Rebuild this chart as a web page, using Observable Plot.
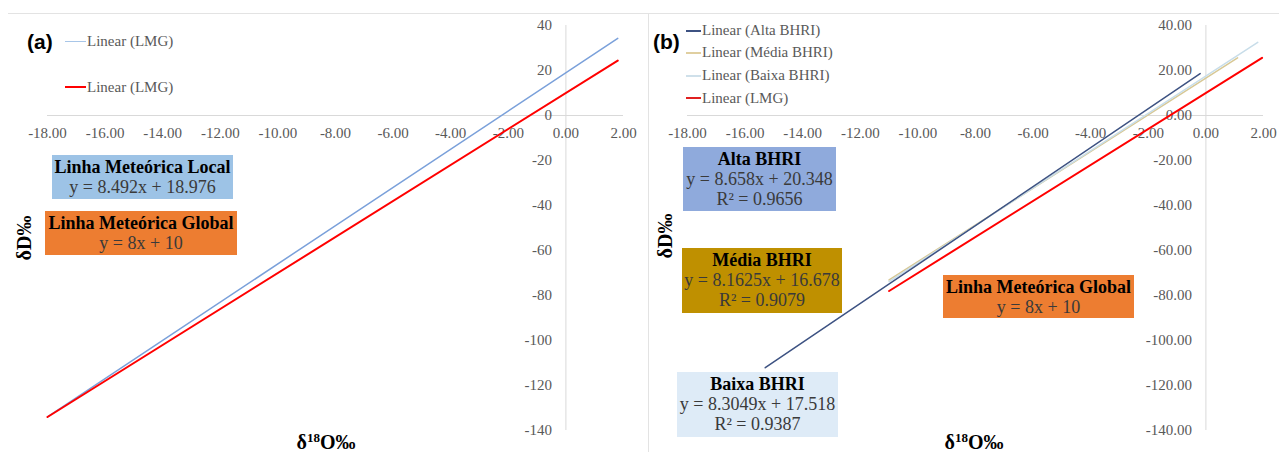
<!DOCTYPE html>
<html>
<head>
<meta charset="utf-8">
<script src="https://cdn.jsdelivr.net/npm/d3@7"></script>
<script src="https://cdn.jsdelivr.net/npm/@observablehq/plot@0.6"></script>
<style>
  html, body { margin: 0; padding: 0; background: #fff; }
  #wrap { position: relative; width: 1279px; height: 452px; overflow: hidden; font-family: "Liberation Serif", "Times New Roman", serif; }
  .panel { position: absolute; top: 0; }
  .abs { position: absolute; white-space: nowrap; }
  .box { position: absolute; text-align: center; font-size: 18px; line-height: 20px; padding-top: 2px; box-sizing: border-box; color: #3a3a3a; white-space: nowrap; }
  .box b { color: #000; }
  .leg { position: absolute; font-size: 15px; color: #595959; line-height: 18px; white-space: nowrap; }
  .sw { position: absolute; height: 0; }
  .tag { position: absolute; font-family: "Liberation Sans", Arial, sans-serif; font-weight: bold; font-size: 21px; color: #000; }
  .ytitle { position: absolute; font-weight: bold; font-size: 20px; color: #000; transform: translate(-50%, -50%) rotate(-90deg); white-space: nowrap; }
  .xtitle { position: absolute; font-weight: bold; font-size: 20px; color: #000; transform: translateX(-50%); white-space: nowrap; }
  .xtitle sup { font-size: 13px; vertical-align: 7px; line-height: 0; }
</style>
</head>
<body>
<div id="wrap"></div>
<script>
// ---- axis ticks ----
const xTicks = [-18, -16, -14, -12, -10, -8, -6, -4, -2, 0, 2];
const yTicks = [40, 20, 0, -20, -40, -60, -80, -100, -120, -140];

// ---- panel (a): trendline endpoints (δ18O, δD) ----
const lmlX = [-18.0, 1.8];
const lmlY = [-133.9, 34.3];
const lmgAX = [-18.0, 1.8];
const lmgAY = [-134.0, 24.4];

// ---- panel (b): trendline endpoints ----
const altaX = [-15.3, -0.2];
const altaY = [-112.1, 18.6];
const mediaX = [-11.0, 1.1];
const mediaY = [-73.1, 25.6];
const baixaX = [-11.0, 1.8];
const baixaY = [-73.8, 32.5];
const lmgBX = [-11.0, 1.95];
const lmgBY = [-78.0, 25.6];

const pts = (xs, ys) => xs.map((x, i) => ({x, y: ys[i]}));

function panel(lines, yFmt, width) {
  return Plot.plot({
    width, height: 452,
    marginLeft: 47, marginRight: width - 623, marginTop: 25, marginBottom: 22,
    x: {domain: [-18, 2], axis: null},
    y: {domain: [-140, 40], axis: null},
    style: {fontFamily: "Liberation Serif, Times New Roman, serif", fontSize: "15px", background: "transparent", overflow: "visible"},
    marks: [
      Plot.ruleY([0], {stroke: "#d9d9d9", strokeWidth: 1}),
      Plot.ruleX([0], {stroke: "#d9d9d9", strokeWidth: 1}),
      Plot.text(xTicks, {x: d => d, y: d => 0, dy: 18, text: d => d.toFixed(2), fill: "#595959", fontSize: 15}),
      Plot.text(yTicks, {x: d => 0, y: d => d, dx: -14, textAnchor: "end", text: yFmt, fill: "#595959", fontSize: 15}),
      ...lines.map(l => Plot.line(pts(l.x, l.y), {x: "x", y: "y", stroke: l.color, strokeWidth: l.w}))
    ]
  });
}

const wrap = document.getElementById("wrap");

const a = panel([
  {x: lmlX, y: lmlY, color: "#7aa0da", w: 1.5},
  {x: lmgAX, y: lmgAY, color: "#ff0000", w: 2}
], d => String(d), 640);
a.classList.add("panel"); a.style.left = "0px";
wrap.appendChild(a);

const b = panel([
  {x: mediaX, y: mediaY, color: "#d8c894", w: 1.5},
  {x: baixaX, y: baixaY, color: "#c8dde9", w: 1.5},
  {x: altaX, y: altaY, color: "#3d5282", w: 1.5},
  {x: lmgBX, y: lmgBY, color: "#ff0000", w: 2}
], d => d.toFixed(2), 639);
b.classList.add("panel"); b.style.left = "640px";
wrap.appendChild(b);

const overlay = `
<div class="abs" style="left:8px;top:13px;width:1271px;border-top:1px solid #e3e3e3;"></div>
<div class="abs" style="left:648px;top:13px;height:439px;border-left:1px solid #e3e3e3;"></div>

<div class="tag" style="left:27px;top:30px;">(a)</div>
<div class="sw" style="left:65px;top:41px;width:21px;border-top:1px solid #a8c6e8;"></div>
<div class="leg" style="left:87px;top:32px;">Linear (LMG)</div>
<div class="sw" style="left:65px;top:86px;width:21px;border-top:2px solid #ff0000;"></div>
<div class="leg" style="left:87px;top:78px;">Linear (LMG)</div>

<div class="box" style="left:52px;top:155px;width:181px;height:44px;background:#9dc3e6;"><b>Linha Meteórica Local</b><br>y = 8.492x + 18.976</div>
<div class="box" style="left:45px;top:211px;width:192px;height:44px;background:#ed7d31;"><b>Linha Meteórica Global</b><br>y = 8x + 10</div>
<div class="ytitle" style="left:24px;top:238px;">δD‰</div>
<div class="xtitle" style="left:326px;top:431px;">δ<sup>18</sup>O‰</div>

<div class="tag" style="left:653px;top:30px;">(b)</div>
<div class="sw" style="left:686px;top:30px;width:15px;border-top:2px solid #3d5282;"></div>
<div class="leg" style="left:702px;top:21px;">Linear (Alta BHRI)</div>
<div class="sw" style="left:686px;top:52px;width:15px;border-top:2px solid #e0cfa0;"></div>
<div class="leg" style="left:702px;top:43px;">Linear (Média BHRI)</div>
<div class="sw" style="left:686px;top:75px;width:15px;border-top:2px solid #cfe0ea;"></div>
<div class="leg" style="left:702px;top:66px;">Linear (Baixa BHRI)</div>
<div class="sw" style="left:686px;top:97px;width:15px;border-top:2px solid #e02020;"></div>
<div class="leg" style="left:702px;top:89px;">Linear (LMG)</div>

<div class="box" style="left:683px;top:147px;width:153px;height:64px;background:#8faadc;"><b>Alta BHRI</b><br>y = 8.658x + 20.348<br>R² = 0.9656</div>
<div class="box" style="left:682px;top:248px;width:160px;height:65px;background:#bf9000;"><b>Média BHRI</b><br>y = 8.1625x + 16.678<br>R² = 0.9079</div>
<div class="box" style="left:677px;top:372px;width:161px;height:65px;background:#deebf7;"><b>Baixa BHRI</b><br>y = 8.3049x + 17.518<br>R² = 0.9387</div>
<div class="box" style="left:943px;top:275px;width:191px;height:43px;background:#ed7d31;"><b>Linha Meteórica Global</b><br>y = 8x + 10</div>
<div class="ytitle" style="left:665px;top:236px;">δD‰</div>
<div class="xtitle" style="left:974px;top:431px;">δ<sup>18</sup>O‰</div>
`;
wrap.insertAdjacentHTML("beforeend", overlay);
</script>
</body>
</html>
